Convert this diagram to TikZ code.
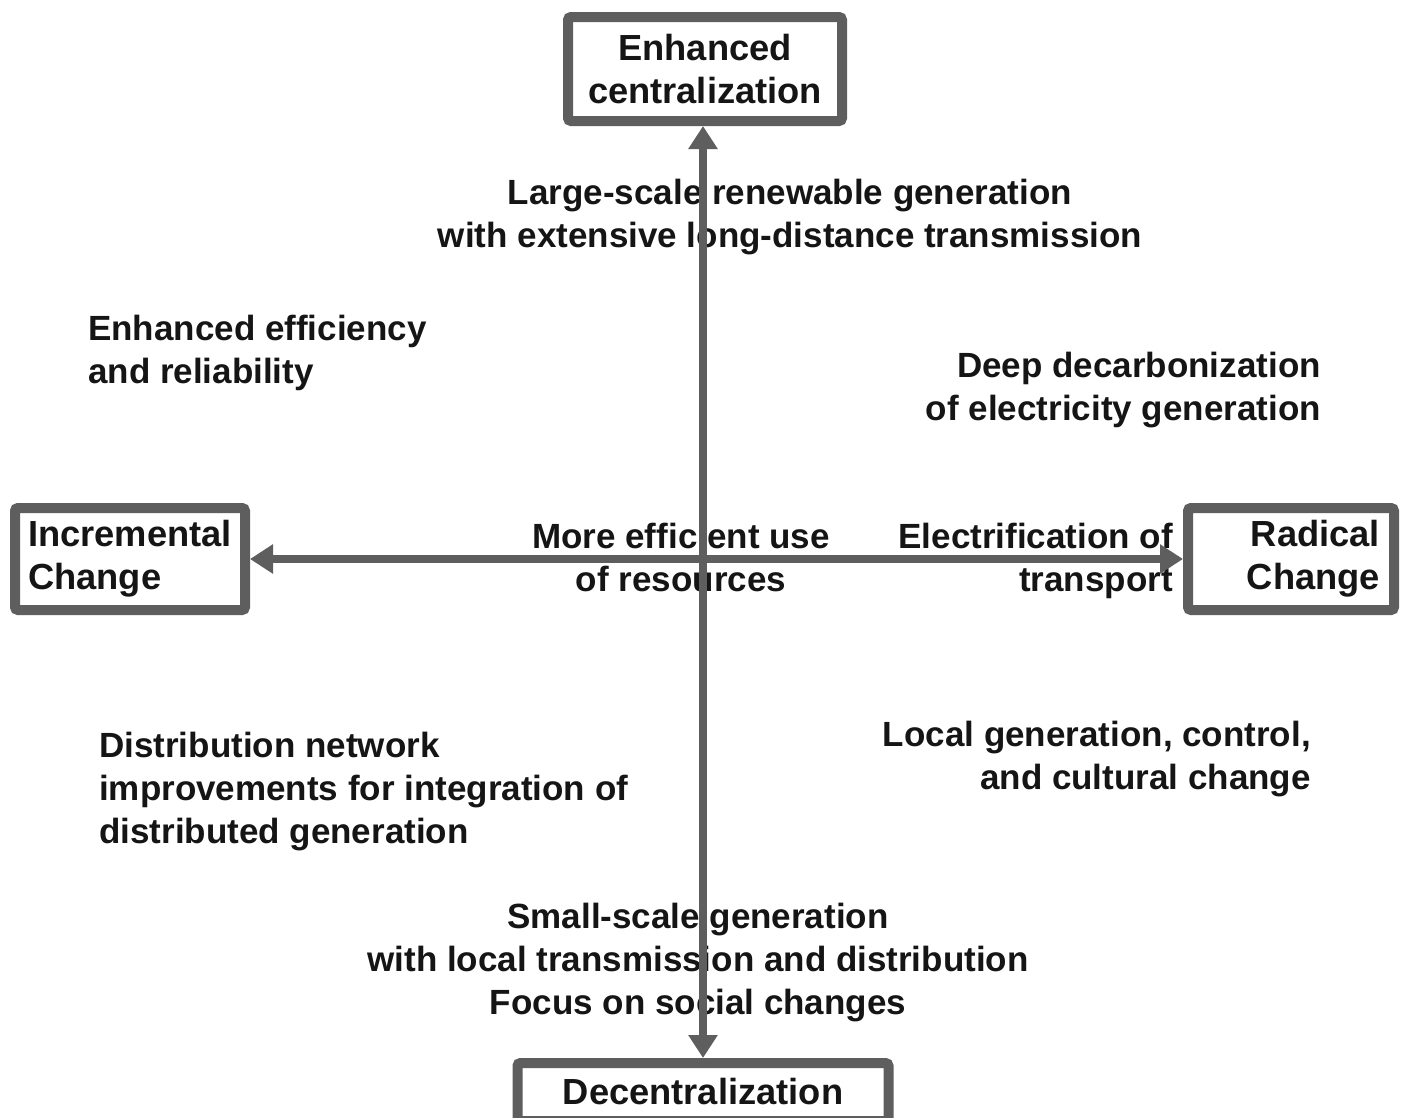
\documentclass[tikz,border=0pt]{standalone}
\usepackage{fontspec}
\setmainfont{Liberation Sans}
\usetikzlibrary{arrows.meta}
\definecolor{linegray}{HTML}{5E5E5E}
\definecolor{txt}{HTML}{151515}
\begin{document}
\begin{tikzpicture}[x=1pt,y=-1pt,
  every node/.style={font=\fontsize{35}{43}\selectfont\bfseries, text=txt, inner sep=0pt},
  box/.style={draw=linegray, line width=10pt, fill=white, rounded corners=3pt, font=\fontsize{36.3}{43}\selectfont\bfseries},
  axis/.style={draw=linegray, line width=8pt, {Triangle[length=23pt,width=28pt]}-{Triangle[length=23pt,width=28pt]}}]
\useasboundingbox[fill=white] (0,0) rectangle (1404,1117);
% boxes
\node[box, minimum width=274pt, minimum height=104pt, align=center] (cen) at (705,69) {Enhanced\\centralization};
\node[box, minimum width=230pt, minimum height=102pt, align=left] (inc) at (130,559) {Incremental\\Change};
\node[box, minimum width=206pt, minimum height=102pt, text width=178pt, align=right] (rad) at (1291,559) {Radical\\Change};
\node[box, minimum width=371pt, minimum height=58pt] (dec) at (703,1092) {Decentralization};
% labels
\node[anchor=north, align=center] (lsr) at (790,179) {Large-scale renewable generation\\with extensive long-distance transmission};
\node[anchor=north west, align=left] (eer) at (88,315) {Enhanced efficiency\\and reliability};
\node[anchor=north east, align=right] (ddc) at (1321,352) {Deep decarbonization\\of electricity generation};
\node[anchor=north, align=center] (meu) at (681,523) {More efficient use\\of resources};
\node[anchor=north east, align=right] (eot) at (1173,523) {Electrification of\\transport};
\node[anchor=north west, align=left] (dni) at (99,732) {Distribution network\\improvements for integration of\\distributed generation};
\node[anchor=north east, align=right] (lgc) at (1311,721) {Local generation, control,\\and cultural change};
\node[anchor=north, align=center] (ssg) at (698,903) {Small-scale generation\\with local transmission and distribution\\Focus on social changes};
% axes
\draw[axis] (dec.north) -- (dec.north |- cen.south);
\draw[axis] (inc.east) -- (rad.west);
\end{tikzpicture}
\end{document}
